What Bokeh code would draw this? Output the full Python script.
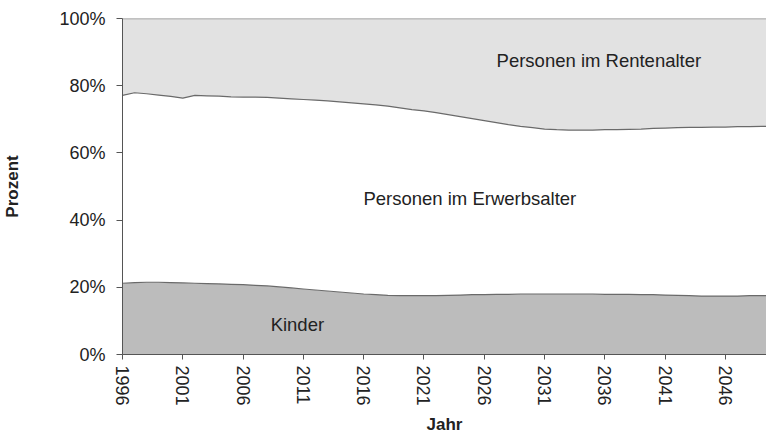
from bokeh.plotting import figure
from bokeh.models import ColumnDataSource, FixedTicker, PrintfTickFormatter, Range1d
from bokeh.transform import stack
from bokeh.core.properties import value
from bokeh.embed import file_html
from bokeh.resources import INLINE

jahre = list(range(1996, 2051))

kinder = [21.2, 21.4, 21.5, 21.5, 21.4, 21.3, 21.2, 21.1, 21.0, 20.9,
          20.8, 20.6, 20.4, 20.1, 19.8, 19.5, 19.2, 18.9, 18.6, 18.3,
          18.0, 17.8, 17.6, 17.5, 17.5, 17.5, 17.5, 17.6, 17.7, 17.8,
          17.8, 17.9, 17.9, 18.0, 18.0, 18.0, 18.0, 18.0, 18.0, 18.0,
          17.9, 17.9, 17.9, 17.8, 17.8, 17.7, 17.6, 17.5, 17.4, 17.4,
          17.4, 17.4, 17.5, 17.5, 17.5]

erwerbsalter = [55.9, 56.5, 56.1, 55.7, 55.4, 55.0, 55.9, 55.9, 55.9, 55.8,
                55.8, 56.0, 56.1, 56.2, 56.3, 56.4, 56.5, 56.6, 56.6, 56.6,
                56.6, 56.5, 56.3, 55.9, 55.4, 55.0, 54.5, 53.8, 53.1, 52.4,
                51.8, 51.1, 50.5, 49.9, 49.5, 49.1, 48.9, 48.8, 48.8, 48.8,
                49.0, 49.0, 49.1, 49.3, 49.5, 49.7, 49.9, 50.1, 50.2, 50.3,
                50.3, 50.4, 50.3, 50.4, 50.4]

rentenalter = [22.9, 22.1, 22.4, 22.8, 23.2, 23.7, 22.9, 23.0, 23.1, 23.3,
               23.4, 23.4, 23.5, 23.7, 23.9, 24.1, 24.3, 24.5, 24.8, 25.1,
               25.4, 25.7, 26.1, 26.6, 27.1, 27.5, 28.0, 28.6, 29.2, 29.8,
               30.4, 31.0, 31.6, 32.1, 32.5, 32.9, 33.1, 33.2, 33.2, 33.2,
               33.1, 33.1, 33.0, 32.9, 32.7, 32.6, 32.5, 32.4, 32.4, 32.3,
               32.3, 32.2, 32.2, 32.1, 32.1]

x_ticks = [1996, 2001, 2006, 2011, 2016, 2021, 2026, 2031, 2036, 2041, 2046]
y_ticks = [0, 20, 40, 60, 80, 100]

source = ColumnDataSource(dict(jahr=jahre, kinder=kinder,
                               erwerb=erwerbsalter, renten=rentenalter))

FONT = "Liberation Sans"

p = figure(width=766, height=436, output_backend="svg", toolbar_location=None,
           x_range=Range1d(1996, 2049.4), y_range=Range1d(0, 100),
           min_border_left=114, min_border_right=0, min_border_top=18,
           min_border_bottom=78)
p.outline_line_color = None
p.grid.visible = False
p.background_fill_color = "white"

p.varea_stack(stackers=["kinder", "erwerb", "renten"], x="jahr",
              color=["#bcbcbc", "#ffffff", "#e2e2e2"], source=source)

p.line(x="jahr", y=stack("kinder"), source=source, line_color="#6a6a6a", line_width=1.2)
p.line(x="jahr", y=stack("kinder", "erwerb"), source=source, line_color="#6a6a6a", line_width=1.2)
p.line(x="jahr", y=stack("kinder", "erwerb", "renten"), source=source, line_color="#8a8a8a", line_width=1.5)

p.text(x=[2035.5], y=[87.6], text=["Personen im Rentenalter"], text_align="center",
       text_baseline="middle", text_font=value(FONT), text_font_size="18.5px", text_color="#222222")
p.text(x=[2024.8], y=[46.5], text=["Personen im Erwerbsalter"], text_align="center",
       text_baseline="middle", text_font=value(FONT), text_font_size="18.5px", text_color="#222222")
p.text(x=[2010.5], y=[8.8], text=["Kinder"], text_align="center",
       text_baseline="middle", text_font=value(FONT), text_font_size="18.5px", text_color="#222222")

xa = p.xaxis[0]
xa.ticker = FixedTicker(ticks=x_ticks)
xa.major_label_orientation = "vertical"
xa.axis_label = "Jahr"
xa.axis_label_text_font = FONT
xa.axis_label_text_font_style = "bold"
xa.axis_label_text_font_size = "17px"
xa.axis_label_text_color = "#222222"
xa.axis_label_standoff = 6
xa.major_label_text_font = FONT
xa.major_label_text_font_size = "18px"
xa.major_label_text_color = "#222222"
xa.major_label_standoff = 6
xa.axis_line_color = "#555555"
xa.major_tick_line_color = "#555555"
xa.major_tick_out = 5
xa.major_tick_in = 0
xa.minor_tick_line_color = None

ya = p.yaxis[0]
ya.ticker = FixedTicker(ticks=y_ticks)
ya.formatter = PrintfTickFormatter(format="%d%%")
ya.axis_label = "Prozent"
ya.axis_label_text_font = FONT
ya.axis_label_text_font_style = "bold"
ya.axis_label_text_font_size = "17px"
ya.axis_label_text_color = "#222222"
ya.axis_label_standoff = 34
ya.major_label_text_font = FONT
ya.major_label_text_font_size = "18px"
ya.major_label_text_color = "#222222"
ya.major_label_standoff = 11
ya.axis_line_color = "#555555"
ya.major_tick_line_color = "#555555"
ya.major_tick_out = 6
ya.major_tick_in = 0
ya.minor_tick_line_color = None

open("out.html", "w").write(file_html(p, INLINE))
